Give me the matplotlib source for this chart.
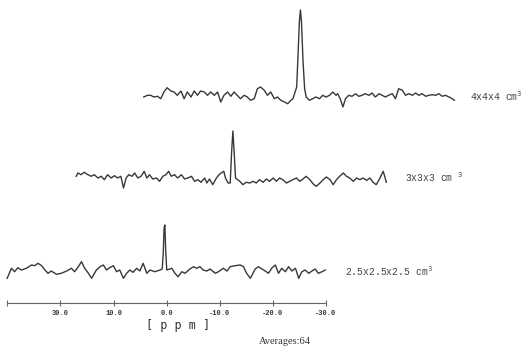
import matplotlib
import matplotlib.pyplot as plt

matplotlib.use('Agg')

# spectrum traces: ppm and intensity (arbitrary units)
ppm_small = [30.1, 29.3, 28.7, 28.1, 27.4, 26.5, 25.5, 24.9, 24.3, 23.6, 23.0, 22.4, 21.8, 20.8,
             19.9, 18.9, 18.0, 17.4, 16.7, 16.1, 15.5, 14.8, 14.2, 13.3, 12.6, 12.0, 11.4, 10.8,
             10.1, 9.5, 8.9, 8.2, 7.6, 7.0, 6.4, 5.7, 5.1, 4.5, 3.8, 3.2, 2.3, 1.3, 0.9,
             0.7, 0.55, 0.4, 0.25, 0.05,
             -0.9, -1.5, -2.1, -2.8, -3.4, -4.3, -5.0, -5.6, -6.2, -6.8, -7.5, -8.1, -9.1, -9.7,
             -10.6, -11.3, -11.9, -12.8, -13.8, -14.4, -15.0, -15.7, -16.6, -17.2, -17.9, -18.5,
             -19.1, -19.8, -20.4, -21.0, -21.6, -22.3, -22.9, -23.5, -24.2, -24.8, -25.4, -26.0,
             -26.7, -27.3, -27.9, -28.5, -29.2, -29.8]
int_small = [-6.3, 3.7, 0.3, 4.3, 2.0, 3.7, 7.0, 6.3, 8.7, 6.3, 2.0, -1.3, 1.0, -2.3,
             -1.3, 1.0, 3.7, 0.3, 5.3, 10.3, 3.7, -1.3, -6.3, 2.0, 5.3, 7.0, 2.0, 4.3,
             6.3, 0.3, 2.0, -6.3, -1.3, 2.0, -0.3, 3.7, 1.0, 8.7, -1.3, 2.0, 0.3, 2.0, 3.0,
             20.0, 44.0, 47.0, 22.0, 2.0,
             3.7, -1.3, -4.7, 0.3, -1.3, 3.0, 5.3, 3.7, 5.3, 2.0, 1.0, 3.0, -1.3, 0.3,
             3.7, 1.0, 5.3, 6.3, 7.0, 5.3, -1.3, -6.3, 3.0, 5.3, 3.0, 1.0,
             -1.3, 4.3, 7.0, -1.3, 3.7, 0.3, 5.3, 1.0, 3.7, -6.3, 0.3, 2.0,
             -1.3, 1.0, 3.0, -1.3, 0.3, 2.0]

ppm_mid = [29.9, 29.6, 29.0, 28.4, 27.7, 27.1, 26.5, 25.8, 25.2, 24.6, 24.0, 23.3, 22.7, 22.1,
           21.5, 21.0, 20.5, 20.0, 19.4, 18.9, 18.3, 17.7, 17.1, 16.6, 16.1, 15.5, 14.8, 14.2,
           13.6, 13.0, 12.5, 12.0, 11.4, 10.8, 10.1, 9.5, 8.9, 8.2, 7.6, 7.0, 6.4, 5.7, 5.3,
           4.8, 4.2, 3.5, 3.0, 2.6, 2.1, 1.8, 1.3, 0.9,
           0.65, 0.4, 0.15, -0.1,
           -0.9, -1.5, -2.1, -2.8, -3.4, -4.0, -4.6, -5.3, -5.9, -6.5, -7.2, -7.8, -8.4, -9.0,
           -9.7, -10.3, -10.9, -11.6, -12.2, -12.8, -13.4, -14.1, -14.7, -15.3, -16.0, -16.6,
           -17.2, -17.9, -18.5, -19.1, -19.7, -20.4, -21.0, -21.6, -22.3, -22.9, -23.5, -24.1,
           -24.8, -25.4, -26.0, -26.6, -27.3, -27.9, -28.2, -28.5]
int_mid = [1.7, 5.0, 3.3, 5.7, 3.3, 1.7, 3.3, 0.0, 1.7, -1.7, 3.3, 0.0, 2.3, 0.0,
           1.7, -10.0, 0.0, 3.3, 1.7, 5.0, 0.0, 1.7, 6.7, 0.0, 3.3, -1.0, 0.0, -3.3,
           1.7, 3.3, 6.7, 1.7, 3.3, 0.0, 3.3, -1.0, 0.0, 1.7, -3.3, -1.7, -4.3, 0.0, -5.0,
           -1.0, -6.7, 0.0, 3.3, 5.0, 6.7, 0.0, -5.0, -5.0,
           25.0, 47.0, 25.0, 0.0,
           -3.3, -6.7, -4.3, -5.0, -3.3, -5.0, -1.7, -4.3, -1.0, -3.3, 0.0, -3.3, 0.0, -1.7,
           -5.0, -3.3, -1.7, 0.0, -3.3, -1.0, 1.7, -1.7, -5.7, -8.3, -5.0, -1.7,
           1.0, -1.7, -6.7, -1.7, 1.7, 5.0, 1.7, 0.0, -3.3, 0.0, -1.7, 0.0,
           -2.3, 0.0, -4.3, -6.7, 0.0, 6.7, 1.7, -4.3]

ppm_large = [29.8, 29.1, 28.5, 27.9, 27.2, 26.6, 26.0, 25.4, 24.7, 24.1, 23.5, 22.8, 22.2, 21.6,
             20.9, 20.3, 19.7, 19.1, 18.4, 17.8, 17.2, 16.5, 15.9, 15.3, 14.7, 14.0, 13.4, 12.8,
             12.2, 11.6, 10.9, 10.3, 9.7, 9.0, 8.4, 7.8, 7.1, 6.5, 5.9, 5.2, 4.6, 4.0, 3.3, 2.7,
             2.1, 1.7, 1.3, 1.0,
             0.8, 0.5, 0.3, 0.1, -0.2, -0.5,
             -0.8, -1.4, -2.0, -2.6, -3.3, -3.9, -4.5, -5.2, -5.8, -6.4, -6.7, -7.2, -7.7, -8.2,
             -8.8, -9.4, -10.1, -10.7, -11.3, -11.9, -12.6, -13.2, -13.8, -14.5, -15.1, -15.7,
             -16.3, -17.0, -17.6, -18.2, -18.9, -19.5, -20.1, -20.8, -21.4, -22.0, -22.6, -23.3,
             -23.9, -24.5, -25.2, -25.8, -26.4, -27.0, -27.7, -28.3, -28.7]
int_large = [0.0, 1.7, 1.7, 0.0, 0.7, -1.7, 5.0, 9.3, 6.0, 5.0, 1.7, 6.0, -1.7, 5.0,
             0.0, 6.0, 1.7, 6.0, 5.0, 1.7, 5.0, 1.7, 5.0, -5.0, 1.7, 5.0, 0.7, 5.0,
             1.7, -1.7, 1.7, 0.0, -3.3, -1.7, 8.3, 10.0, 6.7, 1.7, 5.0, -1.7, 0.0, -3.3, -5.0, -6.7,
             -3.3, -1.7, 5.0, 10.0,
             35.0, 75.0, 87.0, 75.0, 35.0, 8.0,
             0.0, -3.3, -1.7, 0.0, -1.7, 1.7, 0.0, 1.7, 5.0, 1.7, 3.3, -1.7, -10.0, -1.7,
             1.7, 0.7, 3.3, 0.7, 1.7, 3.3, 1.7, 4.0, 0.0, 3.3, 1.7, 0.0,
             1.7, 3.3, -1.7, 8.3, 6.7, 1.7, 3.3, 1.7, 4.0, 1.7, 3.3, 0.7,
             1.7, 2.3, 1.7, 3.3, 0.7, 1.7, 0.0, -1.7, -3.3]

tick_ppm = [30, 20, 10, 0, -10, -20, -30]
tick_text = ['', '30.0', '10.0', '0.0', '-10.0', '-20.0', '-30.0']

spectra = [
    (ppm_small, int_small, '2.5x2.5x2.5 cm$^3$'),
    (ppm_mid, int_mid, '3x3x3 cm $^3$'),
    (ppm_large, int_large, '4x4x4 cm$^3$'),
]

W, H = 528, 361
PX_PER_PPM = 5.31
ZERO_PX = 167

# stacked-plot layout (pixels): horizontal shift, baseline height, label x
shift_px = [0, 68, 135]
base_y = [89, 183, 264]
label_x = [345, 405, 470]

fig = plt.figure(figsize=(W / 100, H / 100), dpi=100)
ax = fig.add_axes([0, 0, 1, 1])
ax.set_xlim(ZERO_PX / PX_PER_PPM, -(W - ZERO_PX) / PX_PER_PPM)
ax.set_ylim(0, H)
ax.axis('off')

for (ppm, inten, name), dx, y0, lx in zip(spectra, shift_px, base_y, label_x):
    xs = [p - dx / PX_PER_PPM for p in ppm]
    ys = [y0 + v for v in inten]
    ax.plot(xs, ys, color='#383838', lw=1.0, solid_joinstyle='round')
    fig.text(lx / W, (y0 + 1) / H, name, fontsize=7, family='Liberation Mono',
             color='#444444', ha='left', va='center')

# ppm scale bar
left_px, right_px, axis_y = 7.3, 326, 303
sc = fig.add_axes([left_px / W, 1 - axis_y / H, (right_px - left_px) / W, 0.001])
sc.set_xlim(30, -30)
sc.set_ylim(0, 1)
for s in ['top', 'left', 'right']:
    sc.spines[s].set_visible(False)
sc.spines['bottom'].set_color('#666666')
sc.spines['bottom'].set_linewidth(0.8)
sc.set_yticks([])
sc.set_xticks(tick_ppm)
sc.set_xticklabels(tick_text, fontsize=5, family='Liberation Mono', fontweight='bold',
                   color='#333333')
sc.tick_params(axis='x', direction='inout', length=4, width=0.8, color='#666666', pad=3)

fig.text(178 / W, 1 - 325 / H, '[ p p m ]', fontsize=8.5, family='DejaVu Sans Mono',
         color='#333333', ha='center', va='center')
fig.text(285 / W, 1 - 341 / H, 'Averages:64', fontsize=7.5, family='Liberation Serif',
         color='#333333', ha='center', va='center')

fig.savefig('out.png', dpi=100)
